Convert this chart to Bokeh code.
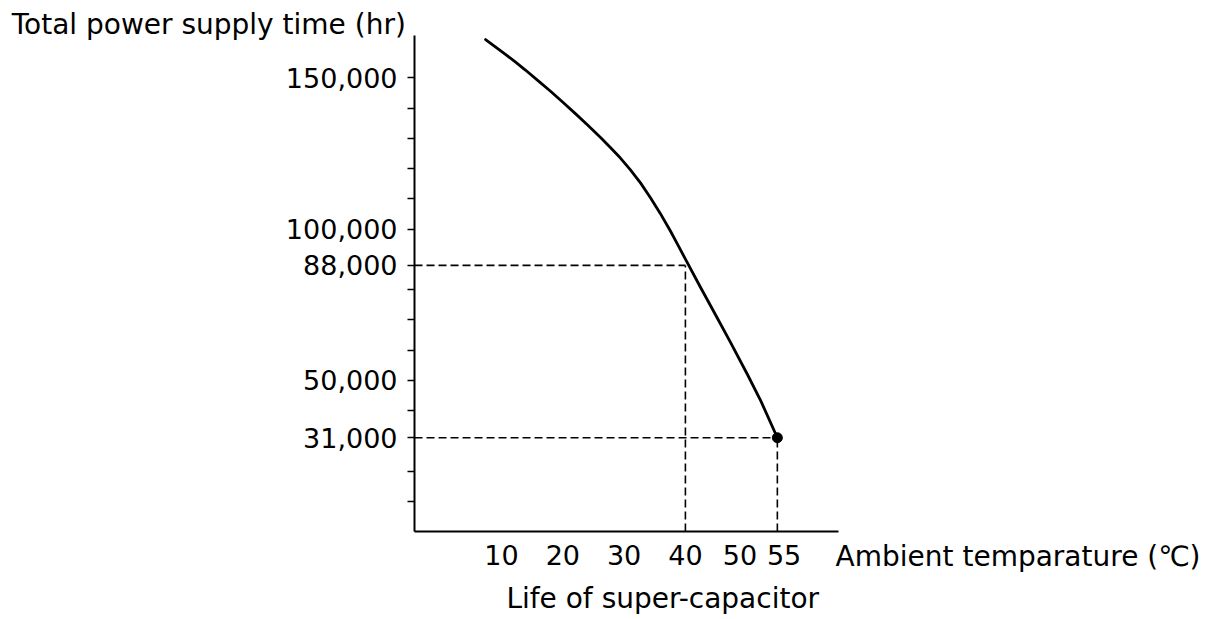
from bokeh.plotting import figure
from bokeh.models import Range1d, FixedTicker, NumeralTickFormatter, Label
from bokeh.embed import file_html
from bokeh.resources import INLINE

# ---- data ----
temp = [7.4, 9.0, 10.7, 12.3, 13.9, 15.9, 18.0, 20.1, 22.1, 24.0, 26.2, 27.8, 29.4,
        31.0, 32.7, 34.3, 35.9, 37.6, 38.9, 40.2, 42.5, 45.2, 47.4, 50.1, 52.3, 55.0]
hours = [162700, 160300, 157700, 155200, 152600, 149200, 145600, 141800, 138100,
         134500, 130200, 126900, 123500, 119700, 115200, 110400, 105200, 99200,
         94300, 89300, 80600, 70600, 62400, 52000, 43200, 31000]

ref_temps = [40, 55]
ref_hours = [88000, 31000]

x_ticks = [10, 20, 30, 40, 50, 55]
y_major_ticks = [31000, 50000, 88000, 100000, 150000]
y_minor_ticks = [10000, 20000, 40000, 60000, 70000, 80000, 110000, 120000, 130000, 140000]

y_title = "Total power supply time (hr)"
x_title = "Ambient temparature (\u2103)"
bottom_title = "Life of super-capacitor"

FONT = "DejaVu Sans"
FS = "27px"
FS_TITLE = "28px"

# extent of the drawn axes (data units)
AX_X0, AX_X1 = -4.19, 64.98
AX_Y0, AX_Y1 = 0, 164000
# visible window (whole canvas)
VIEW_X = (-71.73, 125.66)
VIEW_Y = (-29100, 175600)

p = figure(
    x_range=Range1d(*VIEW_X),
    y_range=Range1d(*VIEW_Y),
    frame_width=1210, frame_height=619,
    min_border=0,
    output_backend="svg", toolbar_location=None,
    background_fill_color="white", border_fill_color="white",
)
p.outline_line_color = None
p.xgrid.visible = False
p.ygrid.visible = False

# y axis
ya = p.yaxis[0]
ya.fixed_location = AX_X0
ya.bounds = (AX_Y0, AX_Y1)
ya.ticker = FixedTicker(ticks=y_major_ticks, minor_ticks=y_minor_ticks)
ya.formatter = NumeralTickFormatter(format="0,0")
ya.axis_line_width = 2
ya.axis_line_color = "black"
ya.major_tick_in = 0
ya.major_tick_out = 7
ya.minor_tick_in = 0
ya.minor_tick_out = 7
ya.major_tick_line_width = 1.5
ya.minor_tick_line_width = 1.5
ya.major_tick_line_color = "black"
ya.minor_tick_line_color = "black"
ya.major_label_standoff = 10
ya.major_label_text_font = FONT
ya.major_label_text_font_size = FS
ya.major_label_text_color = "black"

# x axis
xa = p.xaxis[0]
xa.fixed_location = AX_Y0
xa.bounds = (AX_X0, AX_X1)
xa.ticker = FixedTicker(ticks=x_ticks, minor_ticks=[])
xa.major_label_overrides = {50: "50\u2002", 55: "\u200255"}
xa.axis_line_width = 2
xa.axis_line_color = "black"
xa.major_tick_in = 0
xa.major_tick_out = 0
xa.minor_tick_in = 0
xa.minor_tick_out = 0
xa.major_label_standoff = 8
xa.major_label_text_font = FONT
xa.major_label_text_font_size = FS
xa.major_label_text_color = "black"

# reference dashed lines
p.segment(x0=[AX_X0] * len(ref_temps), y0=ref_hours, x1=ref_temps, y1=ref_hours,
          line_color="black", line_width=1.6, line_dash="8 4")
p.segment(x0=ref_temps, y0=[AX_Y0] * len(ref_temps), x1=ref_temps, y1=ref_hours,
          line_color="black", line_width=1.6, line_dash="8 4")

# curve
p.line(temp, hours, line_color="black", line_width=2.8, line_join="round", line_cap="round")
p.scatter([temp[-1]], [hours[-1]], size=10, color="black")

# titles
p.add_layout(Label(x=-69.9, y=167600, text=y_title, text_font=FONT, text_font_size=FS_TITLE,
                   text_color="black", text_align="left", text_baseline="alphabetic"))
p.add_layout(Label(x=64.5, y=-8200, text=x_title, text_font=FONT, text_font_size=FS_TITLE,
                   text_color="black", text_align="left", text_baseline="alphabetic"))
p.add_layout(Label(x=36.3, y=-22300, text=bottom_title, text_font=FONT, text_font_size=FS_TITLE,
                   text_color="black", text_align="center", text_baseline="alphabetic"))

open("out.html", "w").write(file_html(p, INLINE))
